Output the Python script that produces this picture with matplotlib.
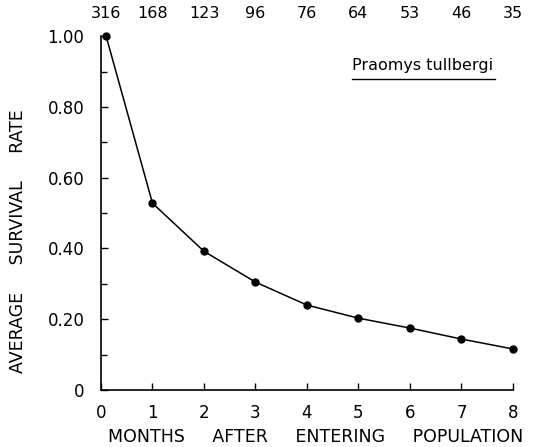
import matplotlib.pyplot as plt

months = [0.1, 1, 2, 3, 4, 5, 6, 7, 8]
survival = [1.00, 0.528, 0.392, 0.305, 0.240, 0.203, 0.175, 0.144, 0.116]
count_pos = [0.1, 1, 2, 3, 4, 5, 6, 7, 8]
counts = ['316', '168', '123', '96', '76', '64', '53', '46', '35']
yticks = [0, 0.2, 0.4, 0.6, 0.8, 1.0]
ylabels = ['0', '0.20', '0.40', '0.60', '0.80', '1.00']

fig = plt.figure(figsize=(5.4, 4.47), dpi=100)
ax = fig.add_axes([0.187, 0.1275, 0.763, 0.7915])

ax.plot(months, survival, color='black', lw=1.1, marker='o', ms=5, clip_on=False)

ax.set_xlim(0, 8)
ax.set_ylim(0, 1.0)
ax.set_xticks(range(9))
ax.set_yticks(yticks)
ax.set_yticklabels(ylabels)
ax.set_yticks([0.1, 0.3, 0.5, 0.7, 0.9], minor=True)
ax.tick_params(direction='in', length=5, width=1, labelsize=12)
ax.tick_params(axis='y', which='minor', direction='in', length=4, width=1)
ax.tick_params(axis='y', pad=12)
ax.tick_params(axis='x', pad=10)

for s in ['top', 'right']:
    ax.spines[s].set_visible(False)
for s in ['left', 'bottom']:
    ax.spines[s].set_linewidth(1.2)

for x, c in zip(count_pos, counts):
    ax.text(x, 1.065, c, ha='center', va='center', fontsize=11.5)

ax.text(7.62, 0.918, 'Praomys tullbergi', ha='right', va='center', fontsize=11.5)
ax.plot([4.87, 7.65], [0.88, 0.88], color='black', lw=1)

ax.set_xlabel('MONTHS     AFTER     ENTERING     POPULATION', fontsize=12.5)
ax.set_ylabel('AVERAGE     SURVIVAL     RATE', fontsize=12.5)
ax.xaxis.set_label_coords(0.52, -0.108)
ax.yaxis.set_label_coords(-0.18, 0.42)

fig.savefig('out.png', dpi=100)
